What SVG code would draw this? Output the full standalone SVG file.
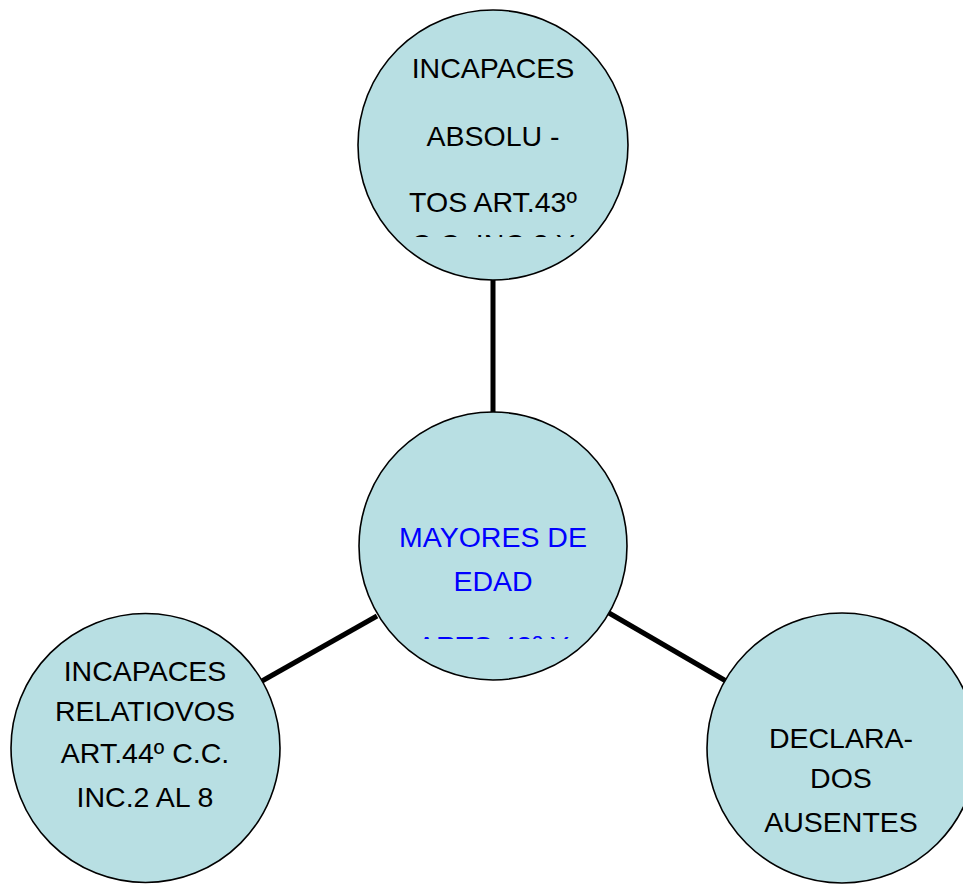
<svg xmlns="http://www.w3.org/2000/svg" width="963" height="886" viewBox="0 0 963 886">
<style>
.node{fill:#B8DFE3;stroke:#000;stroke-width:1.6}
.lbl{font-family:"Liberation Sans",Arial,sans-serif;font-size:28.5px;fill:#000;text-anchor:middle}
.blue{fill:#0000FF}
.conn{stroke:#000;stroke-width:5;fill:none}
</style>
<defs>
<clipPath id="clipTop"><rect x="358" y="20" width="270" height="217"/></clipPath>
<clipPath id="clipCenter"><rect x="358" y="500" width="270" height="139"/></clipPath>
</defs>
<rect width="963" height="886" fill="#fff"/>
<g id="connectors">
<line class="conn" x1="493" y1="280" x2="493" y2="412"/>
<line class="conn" x1="262" y1="681" x2="377" y2="616"/>
<line class="conn" x1="609" y1="613" x2="726" y2="681"/>
</g>
<g id="node-top">
<circle class="node" cx="493" cy="145" r="135"/>
<g clip-path="url(#clipTop)">
<text class="lbl" x="493" y="78">INCAPACES</text>
<text class="lbl" x="493" y="146">ABSOLU -</text>
<text class="lbl" x="493" y="212">TOS ART.43º</text>
<text class="lbl" x="493" y="254">C.C. INC.2 Y</text>
</g>
</g>
<g id="node-center">
<circle class="node" cx="493" cy="546" r="134"/>
<g clip-path="url(#clipCenter)">
<text class="lbl blue" x="493" y="547">MAYORES DE</text>
<text class="lbl blue" x="493" y="591">EDAD</text>
<text class="lbl blue" x="493" y="656">ARTS.42º Y</text>
</g>
</g>
<g id="node-left">
<circle class="node" cx="145.5" cy="748" r="134.5"/>
<text class="lbl" x="145" y="681">INCAPACES</text>
<text class="lbl" x="145" y="721">RELATIOVOS</text>
<text class="lbl" x="145" y="763">ART.44º C.C.</text>
<text class="lbl" x="145" y="807">INC.2 AL 8</text>
</g>
<g id="node-right">
<circle class="node" cx="842" cy="748" r="135"/>
<text class="lbl" x="841" y="748">DECLARA-</text>
<text class="lbl" x="841" y="788">DOS</text>
<text class="lbl" x="841" y="832">AUSENTES</text>
</g>
</svg>
